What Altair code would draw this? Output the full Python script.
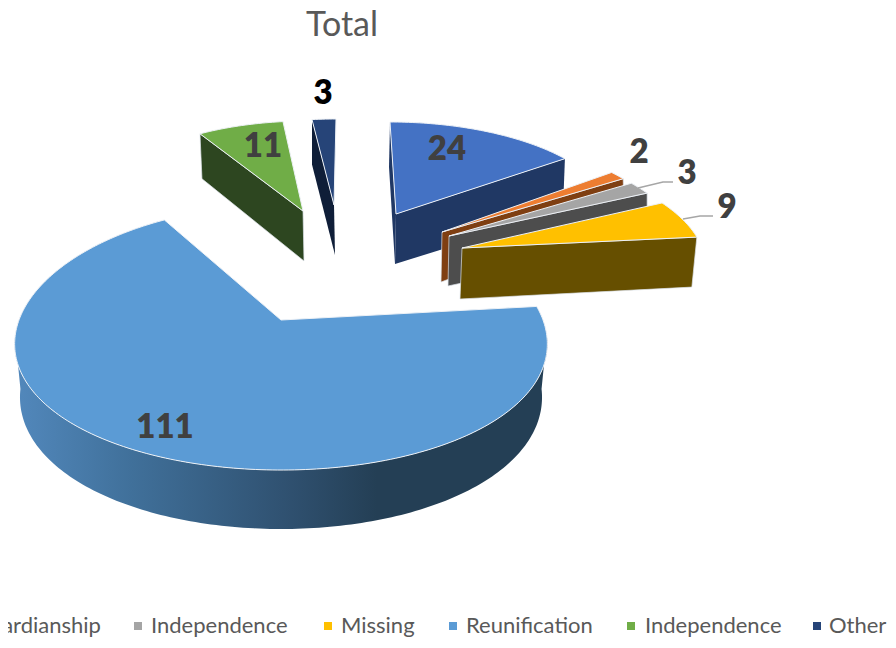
import math
import altair as alt
import pandas as pd

NAMES = ["Adoption", "Guardianship", "Independence", "Missing", "Reunification", "Independence", "Other"]
VALUES = [24, 2, 3, 9, 111, 11, 3]
TOP_COLORS = ["#4472C4", "#ED7D31", "#A5A5A5", "#FFC000", "#5B9BD5", "#70AD47", "#264478"]
WALL_COLORS = ["#203864", "#7F3F12", "#4D4D4D", "#664F00", "#243F55", "#2D4620", "#0F1E38"]
LABEL_COLORS = ["#404040"] * 6 + ["#000000"]

TOTAL = sum(VALUES)
cum = [0]
for v in VALUES:
    cum.append(cum[-1] + v)
ANG = [c / TOTAL * 360 for c in cum]

# per-slice view: apex x, apex y, A, skew, B, perspective x, perspective y
VIEW = [
    (396, 214, 216, -6, 92, 0, 0),
    (442, 232, 229.5, -22.7, 99, 0, 0),
    (449, 236, 233, -26, 98, 0, 0),
    (462, 248, 240, -36, 103, 0, 0),
    (281, 320, 262, 0, 130, 0.18, 0.1335),
    (303, 211, 207, 3.9, 90, 0, 0),
    (334, 205, 208, 2, 86, 0, 0),
]


def pt(i, deg):
    cx, cy, a, s, b, px, py = VIEW[i]
    X, Y = math.sin(math.radians(deg)), math.cos(math.radians(deg))
    return (cx + a * X / (1 + px * Y) + s * Y, cy - b * Y / (1 + py * Y))


def arc(i, a0, a1):
    n = max(2, int(abs(a1 - a0)) + 1)
    return [pt(i, a0 + (a1 - a0) * k / n) for k in range(n + 1)]


SX = alt.Scale(domain=[8, 888], range=[0, 880])
SY = alt.Scale(domain=[640, 48], range=[592, 0])


def poly(points, fill, stroke=None, sw=1.0):
    pts = list(points) + [points[0]]
    df = pd.DataFrame({"x": [p[0] for p in pts], "y": [p[1] for p in pts], "o": range(len(pts))})
    kw = {"fill": fill, "strokeWidth": sw, "interpolate": "linear"}
    kw["stroke"] = stroke if stroke else "transparent"
    return alt.Chart(df).mark_line(**kw).encode(
        x=alt.X("x:Q", scale=SX, axis=None),
        y=alt.Y("y:Q", scale=SY, axis=None),
        order="o:Q",
    )


def top(i):
    cx, cy = VIEW[i][0], VIEW[i][1]
    return poly([(cx, cy)] + arc(i, ANG[i], ANG[i + 1]), TOP_COLORS[i], "#EDF1F6", 1.0)


layers = []
EDGE = "#DDE3EA"
# Adoption
e = pt(0, ANG[1]); t = pt(0, 0)
layers.append(poly([(396, 214), e, (e[0] - 2, e[1] + 53), (395, 264)], WALL_COLORS[0]))
layers.append(poly([t, (389, 167), (395, 264), (396, 214)], WALL_COLORS[0]))
layers.append(top(0))
# Guardianship
e = pt(1, ANG[2])
layers.append(poly([(442, 232), e, (e[0] + 1, e[1] + 36), (441, 282)], WALL_COLORS[1], EDGE, 0.7))
layers.append(top(1))
# Independence
e = pt(2, ANG[3])
layers.append(poly([(449, 236), e, (e[0], e[1] + 50), (448, 286)], WALL_COLORS[2], EDGE, 0.7))
layers.append(top(2))
# Missing
e = pt(3, ANG[4])
layers.append(poly([(462, 248), e, (e[0] - 5, e[1] + 50), (460, 299)], WALL_COLORS[3], EDGE, 0.7))
layers.append(top(3))
# Independence 2
s_ = pt(5, ANG[5])
layers.append(poly([s_, (303, 211), (304, 261), (s_[0] + 2, s_[1] + 45)], WALL_COLORS[5], EDGE, 0.7))
layers.append(top(5))
# Other
s_ = pt(6, ANG[6])
layers.append(poly([s_, (334, 205), (335, 255), (s_[0], s_[1] + 45)], WALL_COLORS[6]))
layers.append(top(6))
# Reunification
lower = []
upper = arc(4, 97, 263)
for d in [97 + k * (263 - 97) / 166 for k in range(167)]:
    x, y = pt(4, d)
    Y = math.cos(math.radians(d))
    lower.append((281 + (x - 281) * 0.98, y + 52 + 7 * abs(Y)))
grad = alt.LinearGradient(
    gradient="linear", x1=0, x2=1, y1=0, y2=0,
    stops=[
        alt.GradientStop(offset=0, color="#5288BC"),
        alt.GradientStop(offset=0.22, color="#40709A"),
        alt.GradientStop(offset=0.52, color="#2F506F"),
        alt.GradientStop(offset=0.68, color="#243F55"),
        alt.GradientStop(offset=1, color="#243F55"),
    ],
)
layers.append(poly(upper + lower[::-1], grad))
layers.append(top(4))

# leader lines
LEADERS = [
    [(638, 188), (663, 182), (673, 182)],
    [(683, 219), (700, 216), (713, 216)],
]
for ld in LEADERS:
    df = pd.DataFrame({"x": [p[0] for p in ld], "y": [p[1] for p in ld], "o": range(len(ld))})
    layers.append(
        alt.Chart(df).mark_line(stroke="#A6A6A6", strokeWidth=1.5).encode(
            x=alt.X("x:Q", scale=SX, axis=None), y=alt.Y("y:Q", scale=SY, axis=None), order="o:Q"
        )
    )

# data labels
LABEL_X = [447, 639, 687, 727, 165, 263, 323]
LABEL_Y = [150, 153, 174, 208, 428, 147, 94]
lab = pd.DataFrame({"x": LABEL_X, "y": LABEL_Y, "t": [str(v) for v in VALUES], "c": LABEL_COLORS})
layers.append(
    alt.Chart(lab).mark_text(font="Lato", fontWeight=800, fontSize=33, baseline="middle", align="center").encode(
        x=alt.X("x:Q", scale=SX, axis=None), y=alt.Y("y:Q", scale=SY, axis=None),
        text="t:N", color=alt.Color("c:N", scale=None),
    )
)

# legend
LEG_NAMES = ["Guardianship", "Independence", "Missing", "Reunification", "Independence", "Other"]
LEG_COLORS = ["#ED7D31", "#A5A5A5", "#FFC000", "#5B9BD5", "#70AD47", "#264478"]
LEG_MARK_X = [-39, 138, 328, 453, 631, 817]
LEG_TEXT_X = [-26, 151, 341, 466, 645, 829]
leg = pd.DataFrame({"x": LEG_MARK_X, "tx": LEG_TEXT_X, "y": [626] * 6, "t": LEG_NAMES, "c": LEG_COLORS})
layers.append(
    alt.Chart(leg).mark_square(size=64, opacity=1).encode(
        x=alt.X("x:Q", scale=SX, axis=None), y=alt.Y("y:Q", scale=SY, axis=None),
        color=alt.Color("c:N", scale=None),
    )
)
layers.append(
    alt.Chart(leg).mark_text(font="Lato", fontSize=22, color="#595959", align="left", baseline="middle").encode(
        x=alt.X("tx:Q", scale=SX, axis=None), y=alt.Y("y:Q", scale=SY, axis=None), text="t:N"
    )
)

chart = alt.layer(*layers).properties(
    width=880,
    height=592,
    padding={"left": 0, "top": 40, "right": 0, "bottom": 0},
    autosize=alt.AutoSizeParams(type="none"),
    title=alt.TitleParams("Total", font="Lato", fontSize=34, fontWeight="normal", color="#595959",
                          anchor="middle", dx=-106, offset=5),
).configure_view(stroke=None)

chart.save("out.html", embed_options={"renderer": "svg", "actions": False})
